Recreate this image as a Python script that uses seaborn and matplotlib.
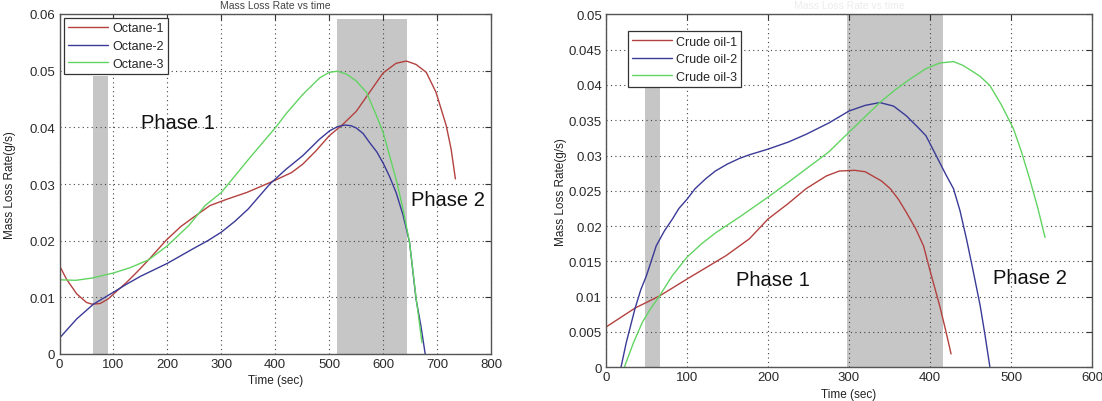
import matplotlib
matplotlib.use("Agg")
import matplotlib.pyplot as plt
import seaborn as sns
import pandas as pd
from matplotlib.ticker import FuncFormatter, MultipleLocator

# ---- Octane pool fires: mass loss rate (g/s) vs time (sec) ----
oct1_t = [0, 13, 32, 50, 60, 75, 90, 105, 124, 145, 165, 198, 225, 248, 279, 310, 347,
          384, 405, 430, 451, 475, 500, 525, 550, 575, 600, 624, 643, 661, 680, 698, 717,
          726, 734]
oct1_m = [0.0156, 0.0132, 0.0106, 0.0091, 0.0088, 0.0089, 0.0097, 0.0110, 0.0126, 0.0146,
          0.0166, 0.0201, 0.0225, 0.0241, 0.0262, 0.0273, 0.0285, 0.0300, 0.0309, 0.0320,
          0.0335, 0.0358, 0.0385, 0.0405, 0.0428, 0.0462, 0.0496, 0.0513, 0.0517, 0.0511,
          0.0497, 0.0462, 0.0403, 0.0362, 0.0309]

oct2_t = [0, 32, 63, 100, 124, 150, 200, 250, 275, 300, 325, 350, 390, 420, 451, 482, 501,
          515, 529, 540, 550, 563, 575, 588, 600, 612, 624, 637, 649, 661, 670, 678]
oct2_m = [0.0028, 0.0062, 0.0088, 0.0109, 0.0123, 0.0137, 0.0160, 0.0187, 0.0200, 0.0215,
          0.0234, 0.0256, 0.0300, 0.0326, 0.0350, 0.0379, 0.0394, 0.0401, 0.0404, 0.0403,
          0.0399, 0.0389, 0.0373, 0.0357, 0.0337, 0.0313, 0.0285, 0.0245, 0.0197, 0.0097,
          0.0050, 0.0]

oct3_t = [0, 30, 60, 100, 130, 165, 200, 240, 270, 300, 350, 390, 400, 421, 451, 482, 500,
          515, 532, 550, 569, 587, 600, 612, 625, 637, 649, 661, 672]
oct3_m = [0.0131, 0.0130, 0.0134, 0.0143, 0.0152, 0.0166, 0.0191, 0.0227, 0.0262, 0.0285,
          0.0343, 0.0388, 0.0399, 0.0425, 0.0458, 0.0487, 0.0497, 0.0499, 0.0494, 0.0482,
          0.0462, 0.0422, 0.0391, 0.0350, 0.0305, 0.0255, 0.0197, 0.0100, 0.0020]

# ---- Crude oil pool fires ----
crude1_t = [0, 36, 66, 100, 148, 177, 200, 225, 247, 272, 288, 307, 320, 340, 351, 361,
            371, 382, 392, 400, 412, 419, 426]
crude1_m = [0.0057, 0.0084, 0.0101, 0.0125, 0.0158, 0.0182, 0.0210, 0.0232, 0.0253, 0.0271,
            0.0278, 0.0279, 0.0277, 0.0264, 0.0253, 0.0238, 0.0219, 0.0197, 0.0172, 0.0137,
            0.0087, 0.0054, 0.0019]

crude2_t = [18.5, 25, 36, 43, 50, 62, 72, 82, 90, 100, 110, 123, 135, 150, 165, 177, 200,
            225, 247, 275, 300, 320, 338, 355, 371, 385, 395, 412, 420, 429, 437, 445, 453,
            462, 468, 474]
crude2_m = [0.0, 0.0035, 0.0084, 0.0110, 0.0130, 0.0172, 0.0193, 0.0210, 0.0225, 0.0238,
            0.0253, 0.0267, 0.0278, 0.0288, 0.0296, 0.0301, 0.0309, 0.0319, 0.0330, 0.0346,
            0.0363, 0.0371, 0.0375, 0.0370, 0.0356, 0.0340, 0.0328, 0.0290, 0.0272, 0.0253,
            0.0222, 0.0182, 0.0138, 0.0087, 0.0045, 0.0]

crude3_t = [22.6, 34, 45, 55, 66, 82, 100, 118, 136, 165, 200, 225, 247, 275, 300, 320,
            338, 357, 375, 395, 412, 429, 440, 450, 462, 474, 488, 503, 513, 523, 533, 542]
crude3_m = [0.0, 0.0035, 0.0064, 0.0083, 0.0101, 0.0130, 0.0156, 0.0175, 0.0191, 0.0213,
            0.0241, 0.0262, 0.0281, 0.0305, 0.0333, 0.0355, 0.0375, 0.0393, 0.0408, 0.0423,
            0.0431, 0.0433, 0.0428, 0.0421, 0.0412, 0.0399, 0.0372, 0.0338, 0.0305, 0.0267,
            0.0226, 0.0184]

oct_labels = ["Octane-1", "Octane-2", "Octane-3"]
crude_labels = ["Crude oil-1", "Crude oil-2", "Crude oil-3"]

# shaded phase-transition windows: (start, end, top)
oct_bands = [(62, 90, 0.049), (514, 645, 0.0592)]
crude_bands = [(48, 67, 0.040), (297, 416, 0.050)]

line_colors = ["#b3413f", "#3a3a98", "#62d462"]

sns.set_theme(style="white")
plt.rcParams["font.family"] = ["Liberation Sans", "DejaVu Sans"]

fig = plt.figure(figsize=(11.02, 4.02), dpi=100)
W, H = 1102, 402
axL = fig.add_axes([59.5 / W, 1 - 355 / H, (491 - 59.5) / W, (355 - 15) / H])
axR = fig.add_axes([606 / W, 1 - 368.3 / H, (1092 - 606) / W, (368.3 - 15.3) / H])


def frame(series_t, series_m, labels):
    parts = []
    for t, m, lab in zip(series_t, series_m, labels):
        parts.append(pd.DataFrame({"Time": t, "Rate": m, "Series": lab}))
    return pd.concat(parts, ignore_index=True)


def style_axes(ax, xmax, xstep, ymax, ystep):
    ax.set_xlim(0, xmax)
    ax.set_ylim(0, ymax)
    ax.xaxis.set_major_locator(MultipleLocator(xstep))
    ax.yaxis.set_major_locator(MultipleLocator(ystep))
    ax.yaxis.set_major_formatter(FuncFormatter(lambda v, p: "0" if abs(v) < 1e-12 else f"{v:g}"))
    ax.grid(True, linestyle=(0, (1, 3)), color="#444444", linewidth=0.8)
    ax.tick_params(direction="in", length=4, width=0.8, top=True, right=True,
                   labelsize=9.5, colors="#333333", labelcolor="#2a2a2a", pad=3)
    for s in ax.spines.values():
        s.set_color("#555555")
        s.set_linewidth(1.0)
    ax.set_xlabel("Time (sec)", fontsize=8.5, color="#222222", labelpad=3)
    ax.set_ylabel("Mass Loss Rate(g/s)", fontsize=8.5, color="#222222")


def draw_panel(ax, df, labels, bands):
    for x0, x1, top in bands:
        ax.fill_between([x0, x1], 0, top, color="#c6c6c6", linewidth=0, zorder=0.5)
    sns.lineplot(data=df, x="Time", y="Rate", hue="Series", hue_order=labels,
                 palette=line_colors, linewidth=1.0, sort=False, estimator=None, ax=ax)


dfL = frame([oct1_t, oct2_t, oct3_t], [oct1_m, oct2_m, oct3_m], oct_labels)
dfR = frame([crude1_t, crude2_t, crude3_t], [crude1_m, crude2_m, crude3_m], crude_labels)

draw_panel(axL, dfL, oct_labels, oct_bands)
draw_panel(axR, dfR, crude_labels, crude_bands)

style_axes(axL, 800, 100, 0.06, 0.01)
style_axes(axR, 600, 100, 0.05, 0.005)
axL.yaxis.set_label_coords(-0.101, 0.5)
axR.yaxis.set_label_coords(-0.080, 0.5)

for ax, anchor in ((axL, (0.010, 0.988)), (axR, (0.045, 0.952))):
    leg = ax.legend(loc="upper left", bbox_to_anchor=anchor, fontsize=9,
                    frameon=True, fancybox=False, edgecolor="#333333",
                    handlelength=3.2, handletextpad=0.3, labelspacing=0.45,
                    borderpad=0.35, borderaxespad=0.0, title=None)
    leg.get_frame().set_linewidth(0.9)
    leg.get_frame().set_facecolor("white")
    leg.get_frame().set_alpha(1)

phase_kw = dict(fontsize=14.5, color="#111111", va="center", ha="left")
axL.text(152, 0.0409, "Phase 1", **phase_kw)
axL.text(652, 0.0273, "Phase 2", **phase_kw)
axR.text(160, 0.0124, "Phase 1", **phase_kw)
axR.text(478, 0.0127, "Phase 2", **phase_kw)

# small panel titles along the top edge
fig.text(275 / W, 1 - 9 / H, "Mass Loss Rate vs time", ha="center", va="baseline",
         fontsize=7.5, color="#444444")
fig.text(849 / W, 1 - 9 / H, "Mass Loss Rate vs time", ha="center", va="baseline",
         fontsize=7.5, color="#ececec")

fig.savefig("out.png", dpi=100, facecolor="white")
